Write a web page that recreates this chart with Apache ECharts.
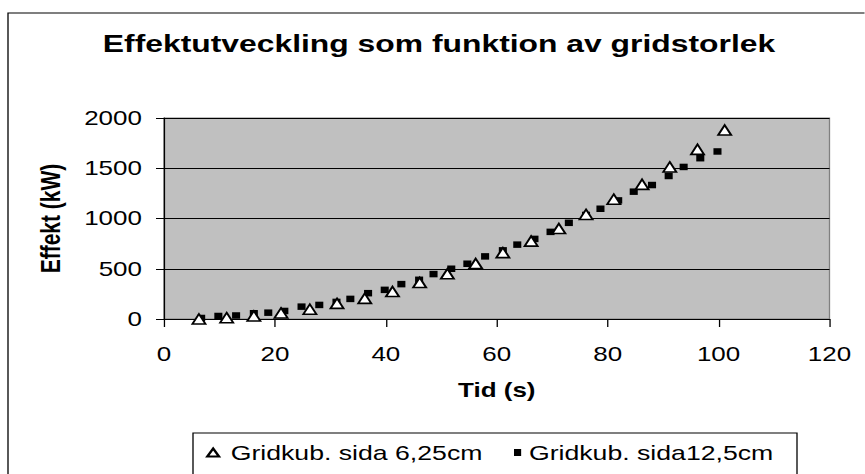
<!DOCTYPE html>
<html>
<head>
<meta charset="utf-8">
<title>Effektutveckling som funktion av gridstorlek</title>
<script src="https://cdn.jsdelivr.net/npm/echarts@6/dist/echarts.min.js"></script>
<style>
  html, body { margin: 0; padding: 0; background: #ffffff; overflow: hidden; }
  /* The chart is laid out narrow and widened horizontally, giving the wide glyphs of the original sheet */
  #chart { height: 474px; transform-origin: 0 0; }
</style>
</head>
<body>
<div id="chart"></div>
<script>
// Horizontal widening factor of the drawing
const STRETCH = 1.3;
const PAGE_W = 865;

// Series: grid cube side 6.25 cm
const fineName = 'Gridkub. sida 6,25cm';
const fineTime = [6.3, 11.3, 16.2, 21.1, 26.3, 31.2, 36.2, 41.2, 46.1, 51.1,
                  56.2, 61.1, 66.2, 71.2, 76.1, 81.1, 86.2, 91.2, 96.2, 101.1];
const finePower = [0, 13, 30, 60, 97, 155, 205, 273, 363, 450,
                   552, 660, 775, 900, 1040, 1192, 1340, 1513, 1688, 1880];

// Series: grid cube side 12.5 cm
const coarseName = 'Gridkub. sida12,5cm';
const coarseTime = [6.7, 9.8, 13.0, 16.2, 18.8, 21.7, 24.8, 28.0, 31.1, 33.6,
                    36.8, 39.8, 42.8, 46.0, 48.6, 51.8, 54.7, 57.9, 61.1, 63.7,
                    66.8, 69.7, 73.0, 76.1, 78.7, 81.9, 84.7, 88.0, 91.0, 93.7,
                    96.7, 99.8];
const coarsePower = [10, 30, 35, 57, 63, 80, 123, 140, 170, 200,
                     257, 290, 347, 390, 447, 500, 550, 623, 683, 740,
                     797, 867, 957, 1035, 1097, 1180, 1267, 1333, 1423, 1513,
                     1600, 1667];

// Axis scales
const timeTicks = [0, 20, 40, 60, 80, 100, 120];
const powerTicks = [0, 500, 1000, 1500, 2000];

const titleText = 'Effektutveckling som funktion av gridstorlek';
const xName = 'Tid (s)';
const yName = 'Effekt (kW)';

const el = document.getElementById('chart');
el.style.width = (PAGE_W / STRETCH) + 'px';
el.style.transform = 'scaleX(' + STRETCH + ')';

const sx = v => v / STRETCH; // page x distance -> layout x distance
const FONT = 'Arial, "Liberation Sans", sans-serif';

const chart = echarts.init(el, null, { renderer: 'svg' });

const pairs = (xs, ys) => xs.map((x, i) => [x, ys[i]]);
const plain = v => String(v);

chart.setOption({
  backgroundColor: '#ffffff',
  animation: false,
  textStyle: { fontFamily: FONT, color: '#000' },
  title: {
    text: titleText,
    left: sx(439), top: 31,
    textAlign: 'center',
    padding: 0,
    textStyle: { fontFamily: FONT, fontSize: 24.5, fontWeight: 'bold', color: '#000' }
  },
  graphic: [
    {
      // chart area frame
      type: 'rect', silent: true, z: -10,
      shape: { x: sx(8), y: 13, width: 1000, height: 600 },
      style: { fill: 'none', stroke: '#000', lineWidth: 1 }
    },
    {
      // legend frame
      type: 'rect', silent: true, z: -5,
      shape: { x: sx(193), y: 433, width: sx(797 - 193), height: 100 },
      style: { fill: '#fff', stroke: '#000', lineWidth: 1 }
    }
  ],
  legend: [
    {
      data: [{ name: fineName, icon: 'triangle' }],
      left: sx(206), top: 442, padding: 0,
      itemWidth: 9, itemHeight: 8,
      textStyle: { fontFamily: FONT, fontSize: 20.5, color: '#000', padding: [0, 0, 0, 4] },
      selectedMode: false
    },
    {
      data: [{ name: coarseName, icon: 'rect' }],
      left: sx(514), top: 442, padding: 0,
      itemWidth: 5.5, itemHeight: 7,
      textStyle: { fontFamily: FONT, fontSize: 20.5, color: '#000', padding: [0, 0, 0, 1] },
      selectedMode: false
    }
  ],
  grid: {
    left: sx(164), right: sx(PAGE_W - 830), top: 118, bottom: 474 - 319,
    show: true, backgroundColor: '#c0c0c0', borderColor: '#808080', borderWidth: 1
  },
  xAxis: {
    type: 'value',
    min: timeTicks[0], max: timeTicks[timeTicks.length - 1],
    interval: timeTicks[1] - timeTicks[0],
    name: xName, nameLocation: 'middle', nameGap: 61,
    nameTextStyle: { fontFamily: FONT, fontSize: 20, fontWeight: 'bold', color: '#000' },
    axisLine: { show: true, lineStyle: { color: '#000', width: 1 } },
    axisTick: { show: true, inside: false, length: 8, lineStyle: { color: '#000' } },
    axisLabel: { fontFamily: FONT, fontSize: 20, color: '#000', margin: 25, formatter: plain },
    splitLine: { show: false }
  },
  yAxis: {
    type: 'value',
    min: powerTicks[0], max: powerTicks[powerTicks.length - 1],
    interval: powerTicks[1] - powerTicks[0],
    name: yName, nameLocation: 'middle', nameGap: 77, nameRotate: 90,
    nameTextStyle: { fontFamily: FONT, fontSize: 21, fontWeight: 'bold', color: '#000' },
    axisLine: { show: true, lineStyle: { color: '#000', width: 1 } },
    axisTick: { show: true, inside: false, length: sx(8), lineStyle: { color: '#000' } },
    axisLabel: { fontFamily: FONT, fontSize: 20, color: '#000', margin: sx(22), formatter: plain },
    splitLine: { show: true, lineStyle: { color: '#000', width: 1 } }
  },
  series: [
    {
      name: fineName,
      type: 'scatter',
      symbol: 'triangle',
      symbolSize: [10, 10],
      z: 4,
      itemStyle: { color: '#ffffff', borderColor: '#000', borderWidth: 1.6, opacity: 1 },
      data: pairs(fineTime, finePower)
    },
    {
      name: coarseName,
      type: 'scatter',
      symbol: 'rect',
      symbolSize: [6.2, 6.5],
      z: 3,
      itemStyle: { color: '#000', opacity: 1 },
      data: pairs(coarseTime, coarsePower)
    }
  ]
});
</script>
</body>
</html>
